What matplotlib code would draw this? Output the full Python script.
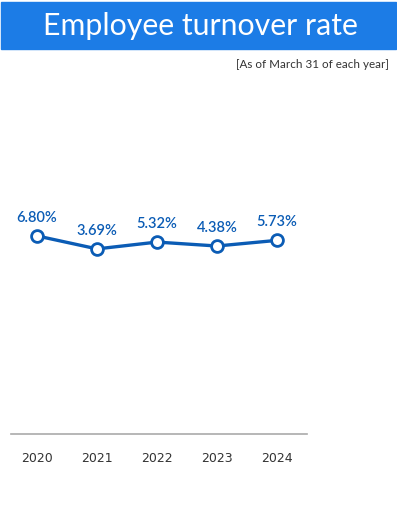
import matplotlib.pyplot as plt
from matplotlib.patches import Rectangle

years = ["2020", "2021", "2022", "2023", "2024"]
rates = [6.80, 3.69, 5.32, 4.38, 5.73]
labels = ["6.80%", "3.69%", "5.32%", "4.38%", "5.73%"]

W, H = 397, 531
BLUE = "#0b5cb5"

fig = plt.figure(figsize=(W / 100, H / 100), dpi=100)

# title banner
fig.patches.append(Rectangle((1 / W, 1 - 49 / H), 395 / W, 47 / H,
                             transform=fig.transFigure, color="#1c7ce6", zorder=0))
fig.text(200 / W, 1 - 26 / H, "Employee turnover rate", color="white",
         fontsize=21.8, ha="center", va="center", family="Lato")
fig.text(389 / W, 1 - 64 / H, "[As of March 31 of each year]", color="#333333",
         fontsize=8.4, ha="right", va="center", family="Lato")

# axes: pixel box x 11..307, y 80..434
ax = fig.add_axes([11 / W, 1 - 434 / H, 296 / W, 354 / H])
x = list(range(len(years)))
ax.plot(x, rates, color=BLUE, linewidth=2.4, marker="o", markersize=8.5,
        markerfacecolor="white", markeredgecolor=BLUE, markeredgewidth=2, zorder=3)
for xi, yi, lab in zip(x, rates, labels):
    ax.annotate(lab, (xi, yi), xytext=(0, 8), textcoords="offset points",
                ha="center", va="bottom", color=BLUE, fontsize=10.5,
                fontweight="semibold", family="Lato")

ax.set_xlim(-0.433, 4.5)
ax.set_ylim(-40.6, 44.1)
for s in ["top", "left", "right"]:
    ax.spines[s].set_visible(False)
ax.spines["bottom"].set_color("#aaaaaa")
ax.spines["bottom"].set_linewidth(1.2)
ax.set_yticks([])
ax.set_xticks(x)
ax.set_xticklabels(years, fontsize=9, color="#333333")
ax.tick_params(axis="x", length=0, pad=13)
ax.patch.set_alpha(0)

fig.savefig("out.png", dpi=100)
